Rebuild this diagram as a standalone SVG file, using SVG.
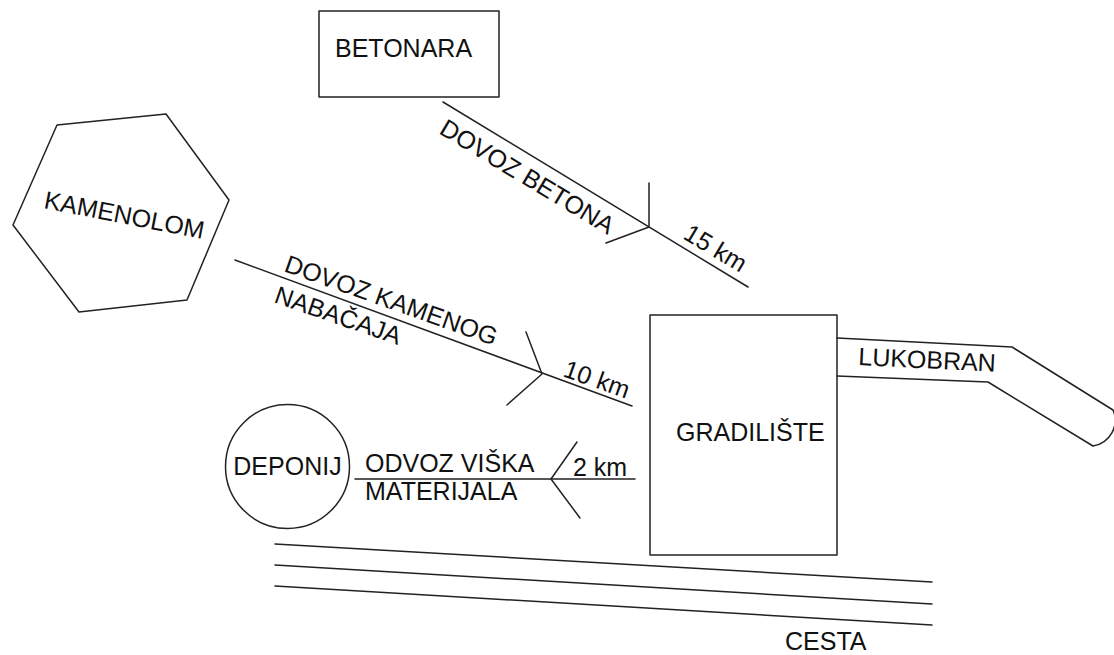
<svg xmlns="http://www.w3.org/2000/svg" width="1114" height="655" viewBox="0 0 1114 655">
<style>
.s{fill:none;stroke:#222;stroke-width:1.5;stroke-linejoin:round;stroke-linecap:round}
.t{font-family:"Liberation Sans",Arial,sans-serif;font-size:25px;fill:#111}
</style>
<rect width="1114" height="655" fill="#fff"/>
<g id="betonara">
<rect class="s" x="319" y="11" width="180" height="86"/>
<text class="t" x="335" y="57">BETONARA</text>
</g>
<g id="kamenolom">
<polygon class="s" points="57,125 166,114 229,200 187,300 79,312 13,225"/>
<text class="t" transform="translate(43,208) rotate(11)">KAMENOLOM</text>
</g>
<g id="deponij">
<circle class="s" cx="287.5" cy="466.5" r="62"/>
<text class="t" x="287.5" y="475" text-anchor="middle">DEPONIJ</text>
</g>
<g id="gradiliste">
<rect class="s" x="650" y="315" width="187" height="240"/>
<text class="t" x="676" y="441">GRADILIŠTE</text>
</g>
<g id="lukobran">
<path class="s" d="M837,338 L1012,347 L1113,410 A26,26 0 0 1 1093,446 L988,382 L837,376"/>
<text class="t" transform="translate(858,365) rotate(2.8)">LUKOBRAN</text>
</g>
<g id="cesta">
<line class="s" x1="275" y1="544" x2="932" y2="582"/>
<line class="s" x1="275" y1="565" x2="932" y2="604"/>
<line class="s" x1="275" y1="586" x2="932" y2="625"/>
<text class="t" x="785" y="650">CESTA</text>
</g>
<g id="connectors">
<line class="s" x1="443" y1="102" x2="748" y2="287"/>
<polyline class="s" points="649,183 649,227 606,243"/>
<line class="s" x1="235" y1="260" x2="632" y2="406"/>
<polyline class="s" points="526,332 542,374 507,405"/>
<line class="s" x1="355" y1="479" x2="635" y2="479"/>
<polyline class="s" points="577,442 551,479 580,518"/>
</g>
<g id="labels">
<text class="t" transform="translate(438,133) rotate(31)">DOVOZ BETONA</text>
<text class="t" transform="translate(682,238) rotate(31)">15 km</text>
<text class="t" transform="translate(283,271) rotate(19.5)">DOVOZ KAMENOG</text>
<text class="t" transform="translate(273,302) rotate(19)">NABAČAJA</text>
<text class="t" transform="translate(562,376) rotate(19.5)">10 km</text>
<text class="t" x="365" y="472">ODVOZ VIŠKA</text>
<text class="t" x="365" y="500">MATERIJALA</text>
<text class="t" x="573" y="476">2 km</text>
</g>
</svg>
